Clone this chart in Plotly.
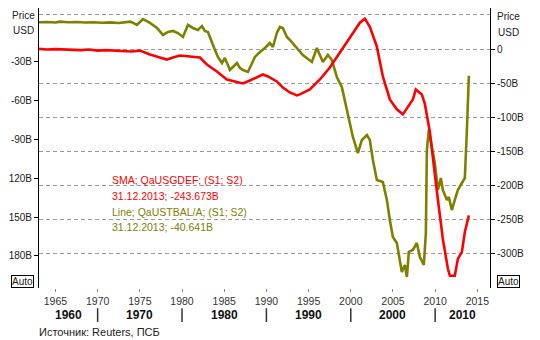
import plotly.graph_objects as go

# US budget deficit, simple moving average (right axis, billions USD)
def_years = [1963.05, 1964.0, 1965.0, 1966.0, 1967.0, 1968.0, 1969.0, 1970.0, 1971.0,
             1972.0, 1973.0, 1974.0, 1975.01, 1976.2, 1977.38, 1978.21, 1978.92,
             1979.75, 1980.94, 1982.12, 1982.95, 1984.13, 1985.32, 1986.51, 1987.22,
             1988.04, 1988.87, 1989.59, 1990.18, 1991.24, 1991.95, 1992.78, 1993.61,
             1993.97, 1995.15, 1996.34, 1997.52, 1998.71, 1999.89, 2001.08, 2001.67,
             2002.26, 2003.09, 2003.80, 2004.63, 2005.46, 2006.17, 2006.77, 2007.36,
             2007.71, 2008.42, 2008.78, 2009.37, 2010.20, 2010.91, 2011.51, 2011.74,
             2012.33, 2012.69, 2013.17, 2013.52, 2013.997]
def_sma = [0.3, -0.7, 0.0, -0.7, -0.3, -1.5, -0.7, -2.2, -1.5,
           -2.2, -2.9, -3.6, -2.2, -8.0, -12.4, -15.3, -12.4,
           -9.5, -10.9, -12.4, -22.6, -32.8, -44.5, -48.9, -50.4,
           -46.0, -41.6, -37.2, -40.1, -47.4, -56.2, -63.5, -67.9,
           -66.4, -59.1, -44.5, -27.0, -5.1, 18.2, 38.7, 44.5,
           32.8, 3.6, -40.1, -73.7, -88.3, -95.6, -84.0, -73.7,
           -59.1, -66.4, -80.3, -121.2, -208.0, -278.1, -321.9, -332.1,
           -332.1, -307.3, -297.1, -268.0, -243.673]

# US trade balance (left axis, billions USD)
bal_years = [1963.05, 1964.0, 1965.0, 1965.5, 1966.5, 1967.5, 1968.5, 1969.5, 1970.5,
             1971.5, 1972.5, 1973.5, 1973.9, 1974.66, 1975.37, 1976.2, 1977.03,
             1977.74, 1978.33, 1978.92, 1979.51, 1980.11, 1980.70, 1981.29, 1981.88,
             1982.36, 1982.71, 1983.07, 1983.54, 1983.90, 1984.25, 1984.73, 1985.08,
             1985.68, 1986.03, 1986.51, 1986.86, 1987.22, 1987.81, 1988.28, 1988.64,
             1989.23, 1989.82, 1990.41, 1990.77, 1991.24, 1991.60, 1991.95, 1992.43,
             1992.78, 1993.61, 1994.32, 1995.39, 1995.98, 1996.69, 1997.29, 1997.76,
             1998.35, 1998.94, 1999.30, 1999.89, 2000.25, 2000.84, 2001.32, 2001.91,
             2002.26, 2002.62, 2003.09, 2003.80, 2004.28, 2004.63, 2004.99, 2005.46,
             2005.82, 2006.05, 2006.41, 2006.65, 2006.88, 2007.36, 2007.83, 2008.19,
             2008.66, 2008.90, 2009.02, 2009.25, 2009.61, 2009.96, 2010.32, 2010.67,
             2010.91, 2011.39, 2011.62, 2011.98, 2012.33, 2012.69, 2013.17, 2013.52,
             2013.76, 2013.87, 2013.997]
bal = [0.7, 0.9, 0.5, 1.2, 0.7, 0.9, 0.5, 0.7, 0.3,
       0.6, 0.2, 0.8, 1.2, -1.4, 3.2, 0.2, -3.7,
       -9.1, -6.8, -6.0, -7.6, -10.7, -1.4, -3.7, -5.3,
       -2.2, -6.0, -6.8, -15.3, -20.7, -26.1, -30.8, -26.9,
       -36.2, -33.9, -30.8, -34.6, -36.2, -37.7, -30.8, -26.1,
       -22.3, -19.2, -15.3, -18.4, -7.6, -2.9, -3.7, -10.7,
       -13.0, -19.2, -24.6, -30.0, -19.2, -30.0, -24.6, -28.5,
       -41.6, -49.3, -59.4, -78.0, -88.0, -100.4, -90.3, -86.5,
       -90.3, -105.8, -121.3, -122.8, -136.7, -152.2, -165.3, -170.0,
       -183.1, -192.4, -187.0, -196.3, -176.9, -175.4, -170.0, -180.8,
       -187.0, -162.3, -98.1, -82.6, -95.7, -108.1, -129.0, -119.7,
       -129.0, -136.7, -134.4, -144.5, -136.7, -129.0, -123.6, -119.7,
       -82.6, -59.4, -40.641]

year_ticks = [1965, 1970, 1975, 1980, 1985, 1990, 1995, 2000, 2005, 2010, 2015]
left_vals = [-30, -60, -90, -120, -150, -180]
left_text = ["-30B", "-60B", "-90B", "120B", "150B", "180B"]
right_vals = [0, -50, -100, -150, -200, -250, -300]
right_text = ["0", "-50B", "-100B", "-150B", "-200B", "-250B", "-300B"]
right_extra_grid = [50, -350]
decades = ["1960", "1970", "1980", "1990", "2000", "2010"]
decade_bounds = [1970, 1980, 1990, 2000, 2010]

X_RANGE = [1963.05, 2016.5]
OLIVE = "#808000"
RED = "#ff0000"
FONT = "Liberation Sans"
GRID = "#9a9a9a"

fig = go.Figure()
fig.add_trace(go.Scatter(x=bal_years, y=bal, mode="lines", yaxis="y",
                         line=dict(color=OLIVE, width=2.6)))
fig.add_trace(go.Scatter(x=def_years, y=def_sma, mode="lines", yaxis="y2",
                         line=dict(color=RED, width=2.6)))
# last-value markers beside each axis
fig.add_trace(go.Scatter(x=[1962.33], y=[bal[-1]], mode="markers", yaxis="y",
                         cliponaxis=False,
                         marker=dict(symbol="diamond", size=7, color=OLIVE)))
fig.add_trace(go.Scatter(x=[2017.33], y=[def_sma[-1]], mode="markers", yaxis="y2",
                         cliponaxis=False,
                         marker=dict(symbol="diamond", size=7, color=RED)))

annotations = []
legend_lines = [("SMA; QaUSGDEF; (S1; S2)", RED),
                (f"31.12.2013; {def_sma[-1]:.3f}B", RED),
                ("Line; QaUSTBAL/A; (S1; S2)", OLIVE),
                (f"31.12.2013; {bal[-1]:.3f}B", OLIVE)]
for i, (txt, col) in enumerate(legend_lines):
    annotations.append(dict(text=txt, x=0.1574, y=0.3857 - i * 0.0565,
                            xref="paper", yref="paper", xanchor="left", yanchor="middle",
                            showarrow=False, font=dict(family=FONT, size=10.5, color=col)))

for xp, ys in [(-0.0344, (0.975, 0.918)), (1.041, (0.968, 0.914))]:
    for txt, yp in zip(["Price", "USD"], ys):
        annotations.append(dict(text=txt, x=xp, y=yp, xref="paper", yref="paper",
                                showarrow=False, xanchor="center", yanchor="middle",
                                font=dict(family=FONT, size=10, color="#222")))

for xp in [-0.0355, 1.0417]:
    annotations.append(dict(text="Auto", x=xp, y=0.0215, xref="paper", yref="paper",
                            showarrow=False, xanchor="center", yanchor="middle",
                            bordercolor="#000", borderwidth=1, borderpad=0,
                            font=dict(family=FONT, size=10, color="#222")))

# decade labels centred on the visible part of each decade
edges = [X_RANGE[0]] + decade_bounds + [X_RANGE[1]]
for lab, a, b in zip(decades, edges[:-1], edges[1:]):
    annotations.append(dict(text=f"<b>{lab}</b>", x=(a + b) / 2, y=-0.0964,
                            xref="x", yref="paper", showarrow=False,
                            xanchor="center", yanchor="middle",
                            font=dict(family=FONT, size=12, color="#111")))

annotations.append(dict(text="Источник: Reuters, ПСБ", x=-0.0044, y=-0.157,
                        xref="paper", yref="paper", showarrow=False,
                        xanchor="left", yanchor="middle",
                        font=dict(family=FONT, size=11, color="#222")))

shapes = []
for yr in decade_bounds:
    shapes.append(dict(type="line", xref="x", yref="paper", x0=yr, x1=yr,
                       y0=-0.0721, y1=-0.1214, line=dict(color="#333", width=1.5)))

fig.update_layout(
    width=540, height=340,
    margin=dict(l=39, r=50, t=8, b=52),
    paper_bgcolor="white", plot_bgcolor="white",
    showlegend=False,
    font=dict(family=FONT, size=10, color="#222"),
    xaxis=dict(range=X_RANGE, tickmode="array", tickvals=year_ticks,
               ticks="outside", ticklen=3, tickcolor="#888",
               showline=False, showgrid=False, zeroline=False,
               tickfont=dict(family=FONT, size=10.5, color="#333")),
    xaxis2=dict(range=X_RANGE, overlaying="x", side="top", anchor="y",
                tickmode="array", tickvals=year_ticks, ticks="inside", ticklen=4,
                tickcolor="#aaa", showline=True, linecolor="#aaa",
                showticklabels=False, showgrid=False, zeroline=False),
    yaxis=dict(range=[-204.8, 11.75], tickmode="array", tickvals=left_vals,
               ticktext=left_text, ticks="outside", ticklen=4, tickcolor="#000",
               showline=True, linecolor="#000", linewidth=1,
               showgrid=False, zeroline=False,
               tickfont=dict(family=FONT, size=10, color="#222")),
    yaxis2=dict(range=[-350, 60.2], overlaying="y", side="right", anchor="x",
                tickmode="array", tickvals=right_vals, ticktext=right_text,
                ticks="outside", ticklen=4, tickcolor="#000",
                showline=True, linecolor="#000", linewidth=1,
                showgrid=True, gridcolor=GRID, griddash="4px,3px", gridwidth=1,
                minor=dict(tickmode="array", tickvals=right_extra_grid, showgrid=True,
                           gridcolor=GRID, griddash="4px,3px", ticks=""),
                zeroline=False,
                tickfont=dict(family=FONT, size=10, color="#222")),
    annotations=annotations,
    shapes=shapes,
)

fig.write_html("out.html")
